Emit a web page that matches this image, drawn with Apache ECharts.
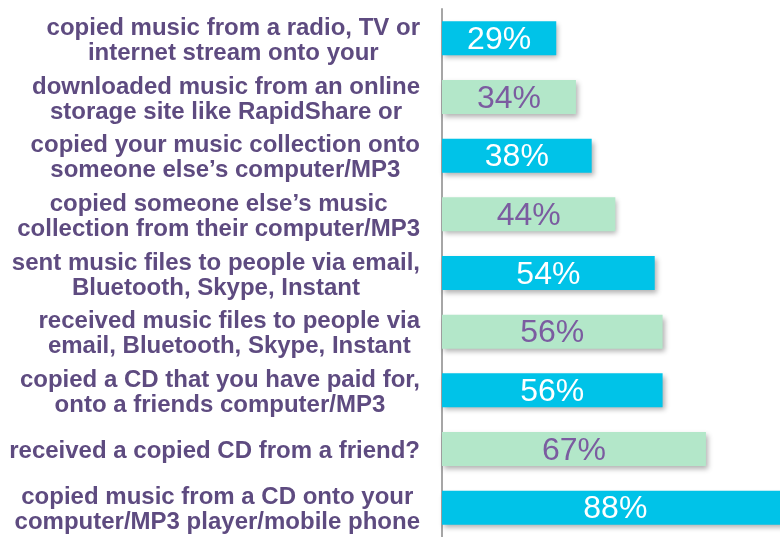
<!DOCTYPE html>
<html>
<head>
<meta charset="utf-8">
<script src="https://cdn.jsdelivr.net/npm/echarts@6/dist/echarts.min.js"></script>
<style>html,body{margin:0;padding:0;background:#fff}#c{width:780px;height:537px}</style>
</head>
<body>
<div id="c"></div>
<script>
const categories = [
  "copied music from a radio, TV or\ninternet stream onto your",
  "downloaded music from an online\nstorage site like RapidShare or",
  "copied your music collection onto\nsomeone else\u2019s computer/MP3",
  "copied someone else\u2019s music\ncollection from their computer/MP3",
  "sent music files to people via email,\nBluetooth, Skype, Instant",
  "received music files to people via\nemail, Bluetooth, Skype, Instant",
  "copied a CD that you have paid for,\nonto a friends computer/MP3",
  "received a copied CD from a friend?",
  "copied music from a CD onto your\ncomputer/MP3 player/mobile phone"
];
const values = [29, 34, 38, 44, 54, 56, 56, 67, 88];
const barColors = ["#00c3e8", "#b3e7c9"];
const labelColors = ["#ffffff", "#7b5ca0"];

const chart = echarts.init(document.getElementById('c'));
chart.setOption({
  animation: false,
  grid: { left: 442, top: 9, right: 0, height: 532 },
  xAxis: { type: 'value', min: 0, max: 85.8, show: false },
  yAxis: {
    type: 'category',
    data: categories,
    inverse: true,
    axisLine: { show: true, lineStyle: { color: '#a6a6a6', width: 2 } },
    axisTick: { show: false },
    axisLabel: {
      margin: 22,
      align: 'right',
      padding: [5, 0, 0, 0],
      formatter: function (v) {
        return v.split('\n').map(function (l) { return '{c|' + l + '}'; }).join('\n');
      },
      rich: {
        c: {
          align: 'center',
          fontFamily: 'Liberation Sans, Arial, sans-serif',
          fontWeight: 'bold',
          fontSize: 24,
          lineHeight: 25,
          color: '#5e4b80'
        }
      }
    }
  },
  series: [{
    type: 'bar',
    data: values.map(function (v, i) {
      return {
        value: v,
        itemStyle: { color: barColors[i % 2] },
        label: { color: labelColors[i % 2] }
      };
    }),
    barWidth: 34,
    clip: false,
    itemStyle: {
      shadowColor: 'rgba(0,0,0,0.3)',
      shadowBlur: 5,
      shadowOffsetX: 2,
      shadowOffsetY: 3
    },
    label: {
      show: true,
      position: 'inside',
      offset: [0, 2],
      formatter: '{c}%',
      fontFamily: 'Liberation Sans, Arial, sans-serif',
      fontSize: 32
    }
  }]
});
</script>
</body>
</html>
